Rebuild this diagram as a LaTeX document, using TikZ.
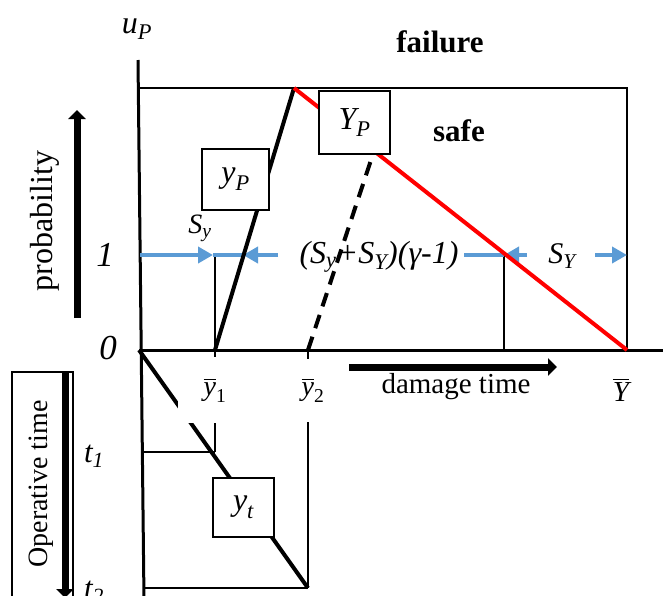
\documentclass[tikz,border=0pt]{standalone}
\usepackage{fontspec}
\usepackage{amsmath}
\setmainfont{Liberation Serif}
\usetikzlibrary{arrows.meta}
\definecolor{sblue}{HTML}{5B9BD5}
\definecolor{sred}{HTML}{FF0000}
\newcommand\fs[1]{\fontsize{#1}{#1}\selectfont}
\newcommand\iv[2]{$\text{\itshape #1}_{\text{\itshape #2}}$}
\newcommand\bary[1]{$\overline{\text{\itshape y}}_{\text{#1}}$}
\begin{document}
\begin{tikzpicture}[x=1pt,y=-1pt,
  thinline/.style={line width=1.2pt},
  thickline/.style={line width=4pt},
  axisline/.style={line width=3pt},
  blueline/.style={sblue, line width=4pt},
  bluearrow/.style={blueline, -{Triangle[length=15pt,width=16pt]}},
  bigarrow/.style={line width=7pt, -{Triangle[length=9pt,width=17pt]}},
  labelbox/.style={draw, fill=white, line width=1.2pt, inner sep=0pt},
  lbl/.style={font=\fs{28}\itshape, inner sep=0pt},
  gapbox/.style={fill=white, inner sep=0pt, font=\fs{28}},
]
\useasboundingbox (0,0) rectangle (663,595);
\clip (0,0) rectangle (663,595);

% coordinates
\coordinate (axtop) at (138,60);
\coordinate (axbot) at (144,600);
\coordinate (O) at (139,350);
\coordinate (xend) at (663,350);
\coordinate (TL) at (138,88);
\coordinate (TR) at (627,88);
\coordinate (Yb) at (627,350);
\coordinate (peak) at (294,88);
\coordinate (yb1) at (215,350);
\coordinate (yb2) at (308,350);
\coordinate (dtop) at (373,154);
\coordinate (t1L) at (142,452);
\coordinate (t1R) at (215,452);
\coordinate (t2L) at (143,588);
\coordinate (t2R) at (308,588);
\coordinate (v1) at (215,255);
\coordinate (v2) at (504,255);
\coordinate (v2b) at (504,350);
\coordinate (a0) at (140,255);
\coordinate (a1) at (213,255);
\coordinate (a2) at (243,255);
\coordinate (a3) at (278,255);
\coordinate (b0) at (464,255);
\coordinate (b1) at (504,255);
\coordinate (b2) at (527,255);
\coordinate (c0) at (595,255);
\coordinate (c1) at (627,255);
\coordinate (pa0) at (77,318);
\coordinate (pa1) at (77,110);
\coordinate (oa0) at (65,372);
\coordinate (oa1) at (65,598);
\coordinate (da0) at (349,367);
\coordinate (da1) at (557,367);
\coordinate (ob0) at (12,372);
\coordinate (ob1) at (73,620);

% frame and axes
\draw[thinline] (TL) -- (TR) -- (Yb);
\draw[axisline] (axtop) -- (axbot);
\draw[axisline] (O) -- (xend);

% thin guide lines
\draw[thinline] (v1) -- (t1R);
\draw[thinline] (yb2) -- (t2R);
\draw[thinline] (v2) -- (v2b);
\draw[thinline] (t1L) -- (t1R);
\draw[thinline] (t2L) -- (t2R);

% blue arrows
\draw[bluearrow] (a0) -- (a1);
\draw[blueline] (a1) -- (a2);
\draw[bluearrow] (a3) -- (a2);
\draw[blueline] (b0) -- (b1);
\draw[bluearrow] (b2) -- (b1);
\draw[bluearrow] (c0) -- (c1);

% curves
\draw[thickline] (yb1) -- (peak);
\draw[thickline, sred] (peak) -- (Yb);
\draw[thickline, dash pattern=on 14pt off 9pt] (yb2) -- (dtop);
\draw[thickline] (O) -- (t2R);

% boxes
\node[labelbox, minimum width=67, minimum height=61] (yPbox) at (235.5,179.5) {\fs{32}\iv{y}{P}};
\node[labelbox, minimum width=71, minimum height=63] (YPbox) at (354.5,122.5) {\fs{32}\iv{Y}{P}};
\node[labelbox, minimum width=61, minimum height=59] (ytbox) at (243.5,507.5) {\fs{32}\iv{y}{t}};

% axis labels
\node[gapbox, minimum width=74, minimum height=66] (yb1lbl) at (215,390) {\bary{1}};
\node[gapbox, minimum width=40, minimum height=63] (yb2lbl) at (313,390) {\bary{2}};
\node[font=\fs{29}, inner sep=0pt] (Yblbl) at (621,390) {$\overline{\text{\itshape Y}}$};

\node[font=\fs{32}, inner sep=0pt] (uP) at (137,29) {\iv{u}{P}};
\node[font=\fs{31}\bfseries, inner sep=0pt] (failure) at (440,42) {failure};
\node[font=\fs{31}\bfseries, inner sep=0pt] (safe) at (459,131) {safe};
\node[lbl, font=\fs{35}\itshape] (one) at (105,255) {1};
\node[lbl, font=\fs{35}\itshape] (zero) at (108,348) {0};
\node[lbl] (Sy) at (200,228) {\iv{S}{y}};
\node[lbl, font=\fs{32}\itshape] (Sexpr) at (379,257) {(\iv{S}{y}+\iv{S}{Y})(γ-1)};
\node[lbl, font=\fs{30}\itshape] (SY) at (562,256) {\iv{S}{Y}};

\node[font=\fs{29}, inner sep=0pt] (dmg) at (456,387) {damage time};
\draw[bigarrow] (da0) -- (da1);

\node[rotate=90, font=\fs{32}, inner sep=0pt] (prob) at (45,221) {probability};
\draw[bigarrow] (pa0) -- (pa1);

\draw[thinline] (ob0) rectangle (ob1);
\node[rotate=90, font=\fs{28}, inner sep=0pt] (op) at (41,484) {Operative time};
\draw[bigarrow] (oa0) -- (oa1);

\node[lbl, font=\fs{31}\itshape, anchor=base] (t1) at (94,462) {\iv{t}{1}};
\node[lbl, font=\fs{31}\itshape, anchor=base] (t2) at (94,598) {\iv{t}{2}};
\end{tikzpicture}
\end{document}
